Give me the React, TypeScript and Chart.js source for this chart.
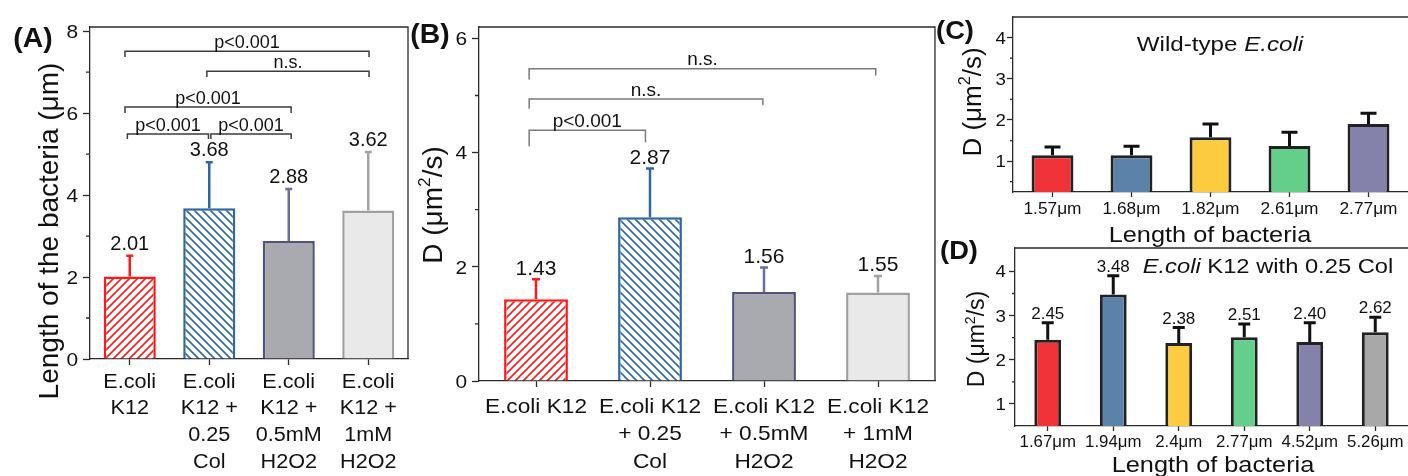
import React, { useEffect, useRef } from 'react';
import { Chart, registerables } from 'chart.js';
Chart.register(...registerables);

const FONT = '"Liberation Sans", Arial, sans-serif';
const AX = '#2b2b2b';
const W = 1408;
const H = 476;

// ---------- Panel A: length of the bacteria ----------
const groupLabelsA = [
  ['E.coli', 'K12'],
  ['E.coli', 'K12 +', '0.25', 'Col'],
  ['E.coli', 'K12 +', '0.5mM', 'H2O2'],
  ['E.coli', 'K12 +', '1mM', 'H2O2'],
];
const lengthMeans = [2.01, 3.68, 2.88, 3.62];
const lengthSD = [0.51, 1.12, 1.27, 1.43];
const majorTicksA = [0, 2, 4, 6, 8];
const minorTicksA = [1, 3, 5, 7];
const bracketsA = [
  { from: -0.06, to: 3.01, y: 7.51, legL: 7.37, legR: 7.37, text: 'p<0.001' },
  { from: 0.97, to: 3.01, y: 7.02, legL: 6.88, legR: 6.88, text: 'n.s.' },
  { from: -0.06, to: 2.03, y: 6.15, legL: 6.0, legR: 6.0, text: 'p<0.001' },
  { from: -0.03, to: 0.99, y: 5.49, legL: 5.37, legR: 5.37, text: 'p<0.001' },
  { from: 1.02, to: 2.03, y: 5.49, legL: 5.37, legR: 5.37, text: 'p<0.001' },
];

// ---------- Panel B: diffusion coefficient ----------
const groupLabelsB = [
  ['E.coli K12'],
  ['E.coli K12', '+ 0.25', 'Col'],
  ['E.coli K12', '+ 0.5mM', 'H2O2'],
  ['E.coli K12', '+ 1mM', 'H2O2'],
];
const diffMeans = [1.43, 2.87, 1.56, 1.55];
const diffSD = [0.35, 0.85, 0.43, 0.29];
const majorTicksB = [0, 2, 4, 6];
const minorTicksB = [1, 3, 5];
const bracketsB = [
  { from: -0.06, to: 2.98, y: 5.47, legL: 5.28, legR: 5.35, text: 'n.s.' },
  { from: -0.06, to: 1.99, y: 4.94, legL: 4.77, legR: 4.83, text: 'n.s.' },
  { from: -0.06, to: 0.96, y: 4.39, legL: 4.11, legR: 4.18, text: 'p<0.001' },
];

// ---------- Panel C: wild-type E.coli ----------
const wtLengths = ['1.57μm', '1.68μm', '1.82μm', '2.61μm', '2.77μm'];
const wtD = [1.14, 1.14, 1.58, 1.37, 1.9];
const wtSD = [0.2, 0.22, 0.32, 0.33, 0.26];
const majorTicksC = [1, 2, 3, 4];
const minorTicksC = [0.5, 1.5, 2.5, 3.5];

// ---------- Panel D: E.coli K12 with 0.25 Col ----------
const colLengths = ['1.67μm', '1.94μm', '2.4μm', '2.77μm', '4.52μm', '5.26μm'];
const colD = [2.45, 3.48, 2.38, 2.51, 2.4, 2.62];
const colSD = [0.39, 0.42, 0.35, 0.3, 0.44, 0.34];
const majorTicksD = [1, 2, 3, 4];
const minorTicksD = [1.5, 2.5, 3.5];

const colorsCD = ['#ef3338', '#5b83a9', '#fdcb3f', '#63cf8a', '#8481aa', '#a8a8a8'];

type Seg = { t: string; italic?: boolean; sup?: boolean };
type Txt = string | Seg[];
interface TextOpt {
  align?: 'left' | 'center' | 'right';
  sx?: number;
  rot?: number;
  color?: string;
  weight?: string;
}

function drawText(ctx: CanvasRenderingContext2D, content: Txt, x: number, y: number, size: number, o: TextOpt = {}) {
  const segs: Seg[] = typeof content === 'string' ? [{ t: content }] : content;
  ctx.save();
  ctx.fillStyle = o.color || '#111';
  ctx.textBaseline = 'alphabetic';
  ctx.textAlign = 'left';
  let w = 0;
  const parts = segs.map((s) => {
    const sz = s.sup ? size * 0.62 : size;
    const f = `${s.italic ? 'italic ' : ''}${o.weight || 'normal'} ${sz}px ${FONT}`;
    ctx.font = f;
    const mw = ctx.measureText(s.t).width;
    const p = { s, f, off: w };
    w += mw;
    return p;
  });
  ctx.translate(x, y);
  if (o.rot) ctx.rotate(o.rot);
  ctx.scale(o.sx || 1, 1);
  const start = o.align === 'right' ? -w : o.align === 'left' ? 0 : -w / 2;
  const base = 0.358 * size;
  parts.forEach((p) => {
    ctx.font = p.f;
    ctx.fillText(p.s.t, start + p.off, base - (p.s.sup ? size * 0.42 : 0));
  });
  ctx.restore();
}

function hatch(color: string, gap: number, dir: number, lw: number) {
  const c = document.createElement('canvas');
  c.width = gap;
  c.height = gap;
  const g = c.getContext('2d')!;
  g.fillStyle = '#fff';
  g.fillRect(0, 0, gap, gap);
  g.strokeStyle = color;
  g.lineWidth = lw;
  g.beginPath();
  if (dir > 0) {
    g.moveTo(0, gap); g.lineTo(gap, 0);
    g.moveTo(-gap / 2, gap / 2); g.lineTo(gap / 2, -gap / 2);
    g.moveTo(gap / 2, gap * 1.5); g.lineTo(gap * 1.5, gap / 2);
  } else {
    g.moveTo(0, 0); g.lineTo(gap, gap);
    g.moveTo(-gap / 2, gap / 2); g.lineTo(gap / 2, gap * 1.5);
    g.moveTo(gap / 2, -gap / 2); g.lineTo(gap * 1.5, gap / 2);
  }
  g.stroke();
  return g.createPattern(c, 'repeat') as CanvasPattern;
}

type Fill = string | { hatch: string; dir: number; gap: number };

interface Bracket { from: number; to: number; y: number; legL: number; legR: number; text: string }
interface TextItem { c: Txt; x: number; y: number; size: number; o?: TextOpt }
interface Panel {
  area: [number, number, number, number];
  yMin: number; yMax: number; majors: number[]; minors: number[];
  labels: string[][];
  values: number[]; sd: number[];
  fills: Fill[]; borders: string[]; borderWidth: number; barPct: number;
  errColors: string[]; errWidth: number; capW: number;
  showValues: boolean; valFont: number; valGap: number;
  yTickFont: number; yTickGap: number;
  xLabFont: number; xLabY0: number; xLabStep: number; xLabSx: number;
  majorLen: number; minorLen: number; xTickLen: number;
  frameRight: boolean;
  brackets: Bracket[]; bracketColor: string; bracketFont: number; bracketGap: number;
  texts: TextItem[];
}

const RED = '#ff1a1a';
const BLUE = '#2f67a3';
const fillsAB: Fill[] = [
  { hatch: RED, dir: 1, gap: 8 },
  { hatch: BLUE, dir: -1, gap: 8 },
  '#a9aab0',
  '#e9e9e9',
];
const bordersAB = [RED, BLUE, '#50537f', '#a0a0a0'];
const errAB = [RED, BLUE, '#6a6ea3', '#a3a3a3'];

const dTitle: Seg[] = [{ t: 'D (μm' }, { t: '2', sup: true }, { t: '/s)' }];

const panels: Panel[] = [
  {
    area: [90, 27, 408, 359], yMin: 0, yMax: 8.1, majors: majorTicksA, minors: minorTicksA,
    labels: groupLabelsA, values: lengthMeans, sd: lengthSD,
    fills: fillsAB, borders: bordersAB, borderWidth: 2.5, barPct: 0.655,
    errColors: errAB, errWidth: 2.5, capW: 7,
    showValues: true, valFont: 20, valGap: 13,
    yTickFont: 19, yTickGap: 12,
    xLabFont: 20, xLabY0: 380.5, xLabStep: 26.7, xLabSx: 1.08,
    majorLen: 7, minorLen: 4, xTickLen: 6, frameRight: true,
    brackets: bracketsA, bracketColor: '#3c3c3c', bracketFont: 18, bracketGap: 9.5,
    texts: [
      { c: '(A)', x: 33, y: 37, size: 27, o: { weight: 'bold', sx: 1.05 } },
      { c: 'Length of the bacteria (μm)', x: 48, y: 231, size: 28, o: { rot: -Math.PI / 2 } },
    ],
  },
  {
    area: [479, 27, 935, 381], yMin: 0, yMax: 6.2, majors: majorTicksB, minors: minorTicksB,
    labels: groupLabelsB, values: diffMeans, sd: diffSD,
    fills: fillsAB, borders: bordersAB, borderWidth: 2.5, barPct: 0.56,
    errColors: errAB, errWidth: 2.5, capW: 8,
    showValues: true, valFont: 21, valGap: 12,
    yTickFont: 19, yTickGap: 12,
    xLabFont: 21, xLabY0: 405, xLabStep: 27.5, xLabSx: 1.08,
    majorLen: 7, minorLen: 4, xTickLen: 6, frameRight: true,
    brackets: bracketsB, bracketColor: '#7a7a7a', bracketFont: 19, bracketGap: 10,
    texts: [
      { c: '(B)', x: 430, y: 33, size: 27, o: { weight: 'bold', sx: 1.05 } },
      { c: dTitle, x: 432, y: 205, size: 28, o: { rot: -Math.PI / 2 } },
    ],
  },
  {
    area: [1013, 17, 1408, 192], yMin: 0.25, yMax: 4.5, majors: majorTicksC, minors: minorTicksC,
    labels: wtLengths.map((s) => [s]), values: wtD, sd: wtSD,
    fills: colorsCD.slice(0, 5), borders: wtD.map(() => '#222'), borderWidth: 3, barPct: 0.53,
    errColors: wtD.map(() => '#111'), errWidth: 3, capW: 16,
    showValues: false, valFont: 17, valGap: 10,
    yTickFont: 17, yTickGap: 7,
    xLabFont: 16, xLabY0: 208, xLabStep: 20, xLabSx: 1.08,
    majorLen: 6, minorLen: 3, xTickLen: 5, frameRight: false,
    brackets: [], bracketColor: '#777', bracketFont: 18, bracketGap: 10,
    texts: [
      { c: '(C)', x: 955, y: 30, size: 26, o: { weight: 'bold', sx: 1.05 } },
      { c: dTitle, x: 972, y: 102, size: 26, o: { rot: -Math.PI / 2 } },
      { c: [{ t: 'Wild-type ' }, { t: 'E.coli', italic: true }], x: 1220, y: 43, size: 21, o: { sx: 1.15 } },
      { c: 'Length of bacteria', x: 1210, y: 234, size: 22, o: { sx: 1.15 } },
    ],
  },
  {
    area: [1015, 248, 1408, 426], yMin: 0.5, yMax: 4.53, majors: majorTicksD, minors: minorTicksD,
    labels: colLengths.map((s) => [s]), values: colD, sd: colSD,
    fills: colorsCD, borders: colD.map(() => '#222'), borderWidth: 3, barPct: 0.41,
    errColors: colD.map(() => '#111'), errWidth: 3, capW: 12,
    showValues: true, valFont: 17, valGap: 10,
    yTickFont: 17, yTickGap: 9,
    xLabFont: 16, xLabY0: 441, xLabStep: 20, xLabSx: 1.05,
    majorLen: 6, minorLen: 3, xTickLen: 5, frameRight: false,
    brackets: [], bracketColor: '#777', bracketFont: 18, bracketGap: 10,
    texts: [
      { c: '(D)', x: 959, y: 250, size: 26, o: { weight: 'bold', sx: 1.05 } },
      { c: dTitle, x: 976, y: 339, size: 23, o: { rot: -Math.PI / 2 } },
      { c: [{ t: 'E.coli', italic: true }, { t: ' K12 with 0.25 Col' }], x: 1268, y: 265, size: 21, o: { sx: 1.13 } },
      { c: 'Length of bacteria', x: 1213, y: 464, size: 22, o: { sx: 1.15 } },
    ],
  },
];

function decorPlugin(p: Panel) {
  return {
    id: 'decor',
    afterDraw(chart: any) {
      const ctx: CanvasRenderingContext2D = chart.ctx;
      const xs = chart.scales.x;
      const ys = chart.scales.y;
      const ca = chart.chartArea;
      ctx.save();
      // frame
      ctx.strokeStyle = AX;
      ctx.lineWidth = 1.3;
      ctx.beginPath();
      ctx.moveTo(ca.left, ca.top);
      ctx.lineTo(ca.right, ca.top);
      if (p.frameRight) ctx.lineTo(ca.right, ca.bottom);
      ctx.stroke();
      // minor ticks
      ctx.beginPath();
      p.minors.forEach((v) => {
        const y = ys.getPixelForValue(v);
        ctx.moveTo(ca.left - p.minorLen, y);
        ctx.lineTo(ca.left, y);
      });
      ctx.stroke();
      // y tick labels
      p.majors.forEach((v) => {
        drawText(ctx, String(v), ca.left - p.yTickGap, ys.getPixelForValue(v), p.yTickFont, { align: 'right', sx: 1.1 });
      });
      // x labels
      p.labels.forEach((lines, i) => {
        const x = xs.getPixelForValue(i);
        lines.forEach((ln, k) => drawText(ctx, ln, x, p.xLabY0 + k * p.xLabStep, p.xLabFont, { sx: p.xLabSx }));
      });
      // error bars + values
      const meta = chart.getDatasetMeta(0);
      meta.data.forEach((bar: any, i: number) => {
        const x = bar.x;
        const yTop = ys.getPixelForValue(p.values[i] + p.sd[i]);
        ctx.strokeStyle = p.errColors[i];
        ctx.lineWidth = p.errWidth;
        ctx.lineCap = 'butt';
        ctx.beginPath();
        ctx.moveTo(x, bar.y);
        ctx.lineTo(x, yTop);
        ctx.moveTo(x - p.capW / 2, yTop);
        ctx.lineTo(x + p.capW / 2, yTop);
        ctx.stroke();
        if (p.showValues) {
          drawText(ctx, p.values[i].toFixed(2), x, yTop - p.valGap, p.valFont, {});
        }
      });
      // brackets
      ctx.strokeStyle = p.bracketColor;
      ctx.lineWidth = 1.5;
      p.brackets.forEach((b) => {
        const x1 = xs.getPixelForValue(b.from);
        const x2 = xs.getPixelForValue(b.to);
        const y = ys.getPixelForValue(b.y);
        ctx.beginPath();
        ctx.moveTo(x1, ys.getPixelForValue(b.legL));
        ctx.lineTo(x1, y);
        ctx.lineTo(x2, y);
        ctx.lineTo(x2, ys.getPixelForValue(b.legR));
        ctx.stroke();
        drawText(ctx, b.text, (x1 + x2) / 2, y - p.bracketGap, p.bracketFont, {});
      });
      // titles / panel labels
      p.texts.forEach((t) => drawText(ctx, t.c, t.x, t.y, t.size, t.o || {}));
      ctx.restore();
    },
  };
}

function PanelCanvas({ p }: { p: Panel }) {
  const ref = useRef<HTMLCanvasElement>(null);
  useEffect(() => {
    const canvas = ref.current!;
    const [L, T, R, B] = p.area;
    const fills = p.fills.map((f) => (typeof f === 'string' ? f : hatch(f.hatch, f.gap, f.dir, 1.6)));
    const gridCommon = { display: true, drawOnChartArea: false, drawTicks: true, tickColor: AX, tickWidth: 1.3 };
    const chart = new Chart(canvas, {
      type: 'bar',
      data: {
        labels: p.labels.map((l) => l.join(' ')),
        datasets: [
          {
            data: p.values,
            backgroundColor: fills as any,
            borderColor: p.borders,
            borderWidth: p.borderWidth,
            barPercentage: p.barPct,
            categoryPercentage: 1,
          },
        ],
      },
      options: {
        animation: false,
        responsive: false,
        maintainAspectRatio: false,
        devicePixelRatio: 1,
        events: [],
        layout: { padding: { left: L - 10, top: T, right: W - R, bottom: H - B - 10 } },
        plugins: { legend: { display: false }, tooltip: { enabled: false }, title: { display: false } },
        scales: {
          x: {
            type: 'category',
            offset: true,
            grid: { ...gridCommon, offset: false, tickLength: p.xTickLen },
            border: { display: true, color: AX, width: 1.3 },
            ticks: { display: false },
            afterFit: (s: any) => { s.height = 10; },
          },
          y: {
            type: 'linear',
            min: p.yMin,
            max: p.yMax,
            grid: { ...gridCommon, tickLength: p.majorLen },
            border: { display: true, color: AX, width: 1.3 },
            ticks: { display: false },
            afterBuildTicks: (s: any) => { s.ticks = p.majors.map((v) => ({ value: v })); },
            afterFit: (s: any) => { s.width = 10; },
          },
        },
      } as any,
      plugins: [decorPlugin(p)],
    });
    return () => chart.destroy();
  }, [p]);
  return (
    <canvas
      ref={ref}
      width={W}
      height={H}
      style={{ position: 'absolute', left: 0, top: 0, width: W, height: H, pointerEvents: 'none' }}
    />
  );
}

export default function App() {
  return (
    <div style={{ position: 'absolute', left: 0, top: 0, width: W, height: H, overflow: 'hidden', background: '#fff' }}>
      {panels.map((p, i) => (
        <PanelCanvas key={i} p={p} />
      ))}
    </div>
  );
}
